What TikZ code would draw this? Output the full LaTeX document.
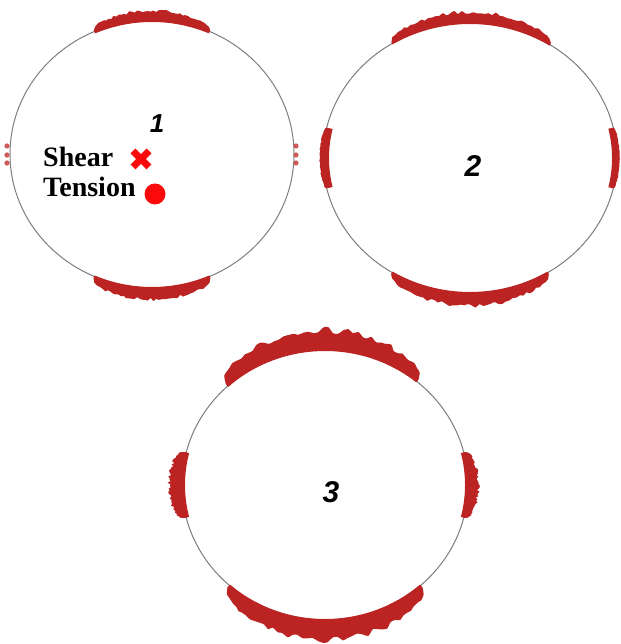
\documentclass[tikz,border=0pt]{standalone}
\usepackage{fontspec}
\setmainfont{Liberation Serif}
\newfontfamily\numfont{Liberation Sans}
\usepackage{tikz}
\usetikzlibrary{positioning,calc}
\usepackage{xcolor}
\definecolor{bandred}{RGB}{188,36,36}
\definecolor{rimgrey}{RGB}{125,125,125}
\definecolor{markred}{RGB}{250,10,10}
% band of marks on the rim: cx, cy, rx, ry, from, to, thickness, inset
\newcommand{\rimband}[8]{%
  \fill[bandred] plot[smooth, domain=#5:#6, samples=48, variable=\t]
    ({#1+(#3+#7*pow(abs(sin(180*(\t-#5)/(#6-#5)))+0.001,0.3)*(0.72+0.28*rnd))*cos(\t)},
     {#2+(#4+#7*pow(abs(sin(180*(\t-#5)/(#6-#5)))+0.001,0.3)*(0.72+0.28*rnd))*sin(\t)})
    -- plot[domain=#6:#5, samples=40, variable=\t]
    ({#1+(#3-#8)*cos(\t)},{#2+(#4-#8)*sin(\t)}) -- cycle;}

\begin{document}
\begin{tikzpicture}[
  x=1pt, y=1pt,
  rim/.style={draw=rimgrey, line width=1pt},
  numlbl/.style={font=\numfont\bfseries\itshape, inner sep=0pt},
  keylbl/.style={font=\fontsize{28}{30}\selectfont\bfseries, inner sep=0pt, anchor=base west},
  speck/.style={fill=bandred!75}
]
\pgfmathsetseed{11}
\useasboundingbox (0,0) rectangle (620,644);

\coordinate (c1) at (152,490);
\coordinate (c2) at (470,486);
\coordinate (c3) at (325,159);

% the three rims
\draw[rim] (c1) ellipse [x radius=142, y radius=134];
\draw[rim] (c2) ellipse [x radius=147, y radius=135];
\draw[rim] (c3) ellipse [x radius=143, y radius=135];

% case 1
\rimband{152}{490}{142}{134}{66}{114}{11}{2}
\rimband{152}{490}{142}{134}{246}{294}{14}{1}
\foreach \yy in {498,489,481} {
  \fill[speck] (7,\yy) circle (2.6);
  \fill[speck] (296,\yy) circle (2.6);
}

% case 2
\rimband{470}{486}{147}{135}{57}{122}{13}{1}
\rimband{470}{486}{147}{135}{238}{302}{15}{1}
\rimband{470}{486}{147}{135}{167}{193}{4}{6}
\rimband{470}{486}{147}{135}{-13}{13}{3}{5}

% case 3
\rimband{325}{159}{143}{135}{50}{133}{23}{1}
\rimband{325}{159}{143}{135}{228}{312}{23}{1}
\rimband{325}{159}{143}{135}{166}{194}{15}{3}
\rimband{325}{159}{143}{135}{-14}{14}{12}{3}

% labels
\node[numlbl, font=\numfont\bfseries\itshape\fontsize{26}{28}\selectfont] (num1) at (157,520) {1};
\node[numlbl, font=\numfont\bfseries\itshape\fontsize{30}{32}\selectfont] (num2) at (473,478) {2};
\node[numlbl, font=\numfont\bfseries\itshape\fontsize{30}{32}\selectfont] (num3) at (331,152) {3};

% legend
\node[keylbl] (shear) at (43,477) {Shear};
\node[keylbl] (tension) at (43,447) {Tension};
\coordinate (xmark) at (141,485);
\draw[markred, line width=7pt] ($(xmark)+(-8,-8)$) -- ($(xmark)+(8,8)$)
  ($(xmark)+(-8,8)$) -- ($(xmark)+(8,-8)$);
\fill[markred] (155,450) circle (10.5);
\end{tikzpicture}
\end{document}
